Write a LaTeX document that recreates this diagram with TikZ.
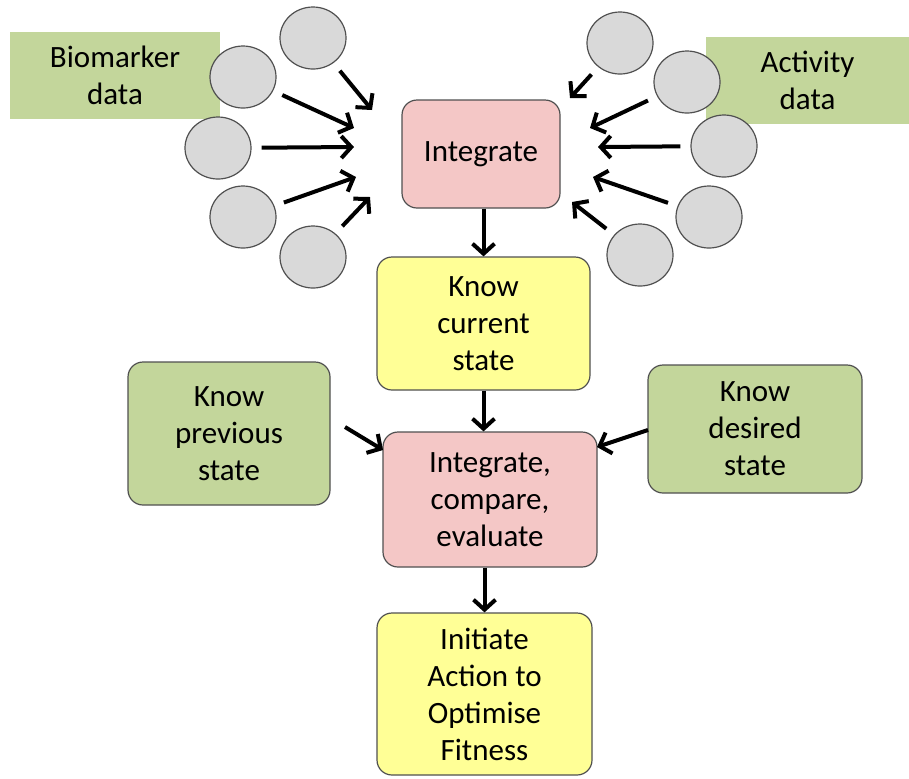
\documentclass[tikz,border=0pt]{standalone}
\usepackage{fontspec}
\setmainfont{Carlito}
\usepackage{tikz}
\usetikzlibrary{arrows.meta,shapes.geometric}

\definecolor{boxgreen}{RGB}{195,214,155}
\definecolor{boxpink}{RGB}{244,199,198}
\definecolor{boxyellow}{RGB}{255,255,150}
\definecolor{dotgray}{RGB}{217,217,217}
\definecolor{edgegray}{RGB}{80,80,80}

\tikzset{
  txt/.style={font=\fontsize{15.5}{18.5}\selectfont, align=center, inner sep=0pt},
  databox/.style={txt, fill=boxgreen, minimum width=#1},
  stepbox/.style={txt, draw=edgegray, line width=0.6pt, rounded corners=7.5pt},
  dot/.style={ellipse, draw=edgegray, fill=dotgray, line width=0.6pt,
    minimum width=33pt, minimum height=31pt, inner sep=0pt},
  arr/.style={line width=2pt, -{Straight Barb[length=5pt,width=11pt,line width=2pt]}}
}

\begin{document}
\begin{tikzpicture}[x=0.5pt,y=-0.5pt]
\useasboundingbox (0,0) rectangle (909,778);

% data sources
\node[databox=105pt, minimum height=43.5pt] (bio) at (115,75.5) {Biomarker\\data};
\node[databox=101.5pt, minimum height=43.5pt] (act) at (807.5,80.5) {Activity\\data};

% flow
\node[stepbox, fill=boxpink, minimum width=79pt, minimum height=54pt] (integ) at (481,154) {Integrate};
\node[stepbox, fill=boxyellow, minimum width=106.5pt, minimum height=66.5pt] (cur) at (483.5,323.5) {Know\\current\\state};
\node[stepbox, fill=boxgreen, minimum width=101pt, minimum height=71.5pt] (prev) at (229,433.5) {Know\\previous\\state};
\node[stepbox, fill=boxgreen, minimum width=107pt, minimum height=64pt] (des) at (755,429) {Know\\desired\\state};
\node[stepbox, fill=boxpink, minimum width=107pt, minimum height=67.5pt] (cmp) at (490,499.5) {Integrate,\\compare,\\evaluate};
\node[stepbox, fill=boxyellow, minimum width=107.5pt, minimum height=81pt] (fit) at (484.5,694) {Initiate\\Action to\\Optimise\\Fitness};

% circles left and right
\foreach \n/\x/\y in {1/313/38, 2/243/77, 3/218/148, 4/243/217, 5/313/257}
  \node[dot] (l\n) at (\x,\y) {};
\foreach \n/\x/\y in {1/620/43, 2/687/82, 3/724/146, 4/709/217, 5/640/255}
  \node[dot] (r\n) at (\x,\y) {};

% arrow ends
\foreach \n/\x/\y in {1/372/110, 2/354/128, 3/354/147, 4/356/177, 5/370/197}
  \coordinate (le\n) at (\x,\y);
\foreach \n/\x/\y in {1/570/98, 2/590/128, 3/598/147, 4/593/177, 5/572/202}
  \coordinate (re\n) at (\x,\y);

\foreach \n in {1,...,5}{
  \draw[arr, shorten <=5pt] (l\n) -- (le\n);
  \draw[arr, shorten <=5pt] (r\n) -- (re\n);
}

\coordinate (pe) at (345,427);
\coordinate (pc) at (383,450);
\coordinate (de) at (648,430);
\coordinate (dc) at (597,447);

\draw[arr] (integ.south -| cur.north) -- (cur.north);
\draw[arr] (cur.south) -- (cur.south |- cmp.north);
\draw[arr] (pe) -- (pc);
\draw[arr] (de) -- (dc);
\draw[arr] (cmp.south -| fit.north) -- (fit.north);
\end{tikzpicture}
\end{document}
